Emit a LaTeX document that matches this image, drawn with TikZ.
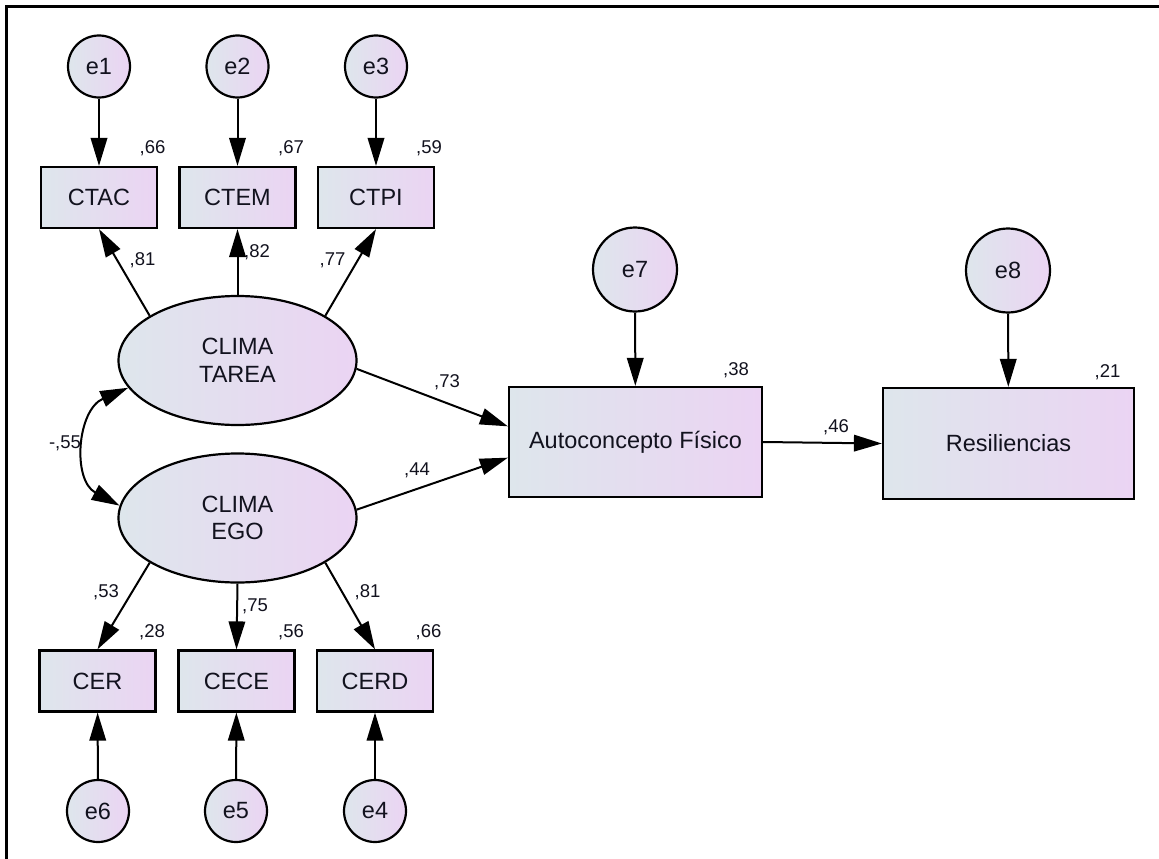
\documentclass[tikz,border=0pt]{standalone}
\usepackage{fontspec}
\setmainfont{Liberation Sans}
\usetikzlibrary{arrows.meta,shapes.geometric}

\definecolor{shadeL}{RGB}{222,230,236}
\definecolor{shadeR}{RGB}{235,212,243}
\definecolor{ink}{RGB}{18,18,30}

\tikzset{
  base/.style={draw=black, line width=2.2pt, inner sep=0pt, text=ink,
    left color=shadeL, right color=shadeR,
    font=\fontsize{23.5}{27.7}\selectfont},
  obs/.style={base, rectangle, minimum width=116pt, minimum height=61pt},
  bigobs/.style={base, rectangle, minimum width=253pt, minimum height=110pt},
  latent/.style={base, ellipse, minimum width=238pt, minimum height=129pt, align=center},
  err/.style={base, circle, minimum size=62pt},
  bigerr/.style={base, circle, minimum size=84pt},
  coef/.style={inner sep=0pt, text=ink, font=\fontsize{18.5}{21}\selectfont},
  arr/.style={draw=black, line width=2pt, -{Triangle[length=28pt,width=16.5pt]}},
  cov/.style={draw=black, line width=2pt,
    {Triangle[length=28pt,width=16.5pt]}-{Triangle[length=28pt,width=16.5pt]}}
}

\begin{document}
\begin{tikzpicture}[x=1pt, y=-1pt]
\useasboundingbox (0,0) rectangle (1159,859);

% frame lines
\draw[line width=2.3pt] (6.5,859) -- (6.5,6.5) -- (1159,6.5);

% indicators of the task climate
\node[err] (e1) at (99,66.5) {e1};
\node[err] (e2) at (237.5,66.5) {e2};
\node[err] (e3) at (376,66.5) {e3};
\node[obs] (ctac) at (99,197.5) {CTAC};
\node[obs] (ctem) at (237.5,197.5) {CTEM};
\node[obs] (ctpi) at (376,197.5) {CTPI};

% latent factors
\node[latent] (tarea) at (237.5,360.5) {CLIMA\\TAREA};
\node[latent] (ego) at (237.5,518) {CLIMA\\EGO};

% indicators of the ego climate
\node[obs] (cer) at (97.5,681) {CER};
\node[obs] (cece) at (236.5,681) {CECE};
\node[obs] (cerd) at (375,681) {CERD};
\node[err] (e6) at (98,811) {e6};
\node[err] (e5) at (236,811) {e5};
\node[err] (e4) at (375,811) {e4};

% structural part
\node[bigerr] (e7) at (635,269.5) {e7};
\node[bigerr] (e8) at (1008,270.5) {e8};
\node[bigobs] (auto) at (635.5,442) {Autoconcepto Físico};
\node[bigobs, minimum width=251pt, minimum height=111pt] (resil) at (1008.5,443.5) {Resiliencias};

% error terms
\draw[arr] (e1) -- (ctac);
\draw[arr] (e2) -- (ctem);
\draw[arr] (e3) -- (ctpi);
\draw[arr] (e6) -- (cer);
\draw[arr] (e5) -- (cece);
\draw[arr] (e4) -- (cerd);
\draw[arr] (e7) -- (auto);
\draw[arr] (e8) -- (resil);

% loadings
\draw[arr] (tarea.153) -- (ctac.south);
\draw[arr] (tarea.north) -- (ctem.south);
\draw[arr] (tarea.27) -- (ctpi.south);
\draw[arr] (ego.207) -- (cer.north);
\draw[arr] (ego.south) -- (cece.north);
\draw[arr] (ego.333) -- (cerd.north);

% regressions
\draw[arr] (tarea.356) -- (auto.173);
\draw[arr] (ego.4) -- (auto.187);
\draw[arr] (auto.east) -- (resil.west);

% covariance
\draw[cov] (tarea.194) .. controls (77,410) and (72,480) .. (ego.174);

% squared multiple correlations
\node[coef] (r1) at (152.5,148) {,66};
\node[coef] (r2) at (291,148) {,67};
\node[coef] (r3) at (429,148) {,59};
\node[coef] (r6) at (152,632) {,28};
\node[coef] (r5) at (291,632) {,56};
\node[coef] (r4) at (428.5,632) {,66};
\node[coef] (r7) at (736,370) {,38};
\node[coef] (r8) at (1107.5,372) {,21};

% standardized coefficients
\node[coef] (l1) at (142.5,260) {,81};
\node[coef] (l2) at (257,252) {,82};
\node[coef] (l3) at (332.5,260) {,77};
\node[coef] (l6) at (106,592) {,53};
\node[coef] (l5) at (255,606) {,75};
\node[coef] (l4) at (367.5,592) {,81};
\node[coef] (b1) at (447,382) {,73};
\node[coef] (b2) at (417,470) {,44};
\node[coef] (b3) at (836,427) {,46};
\node[coef] (c1) at (65,443) {-,55};
\end{tikzpicture}
\end{document}
